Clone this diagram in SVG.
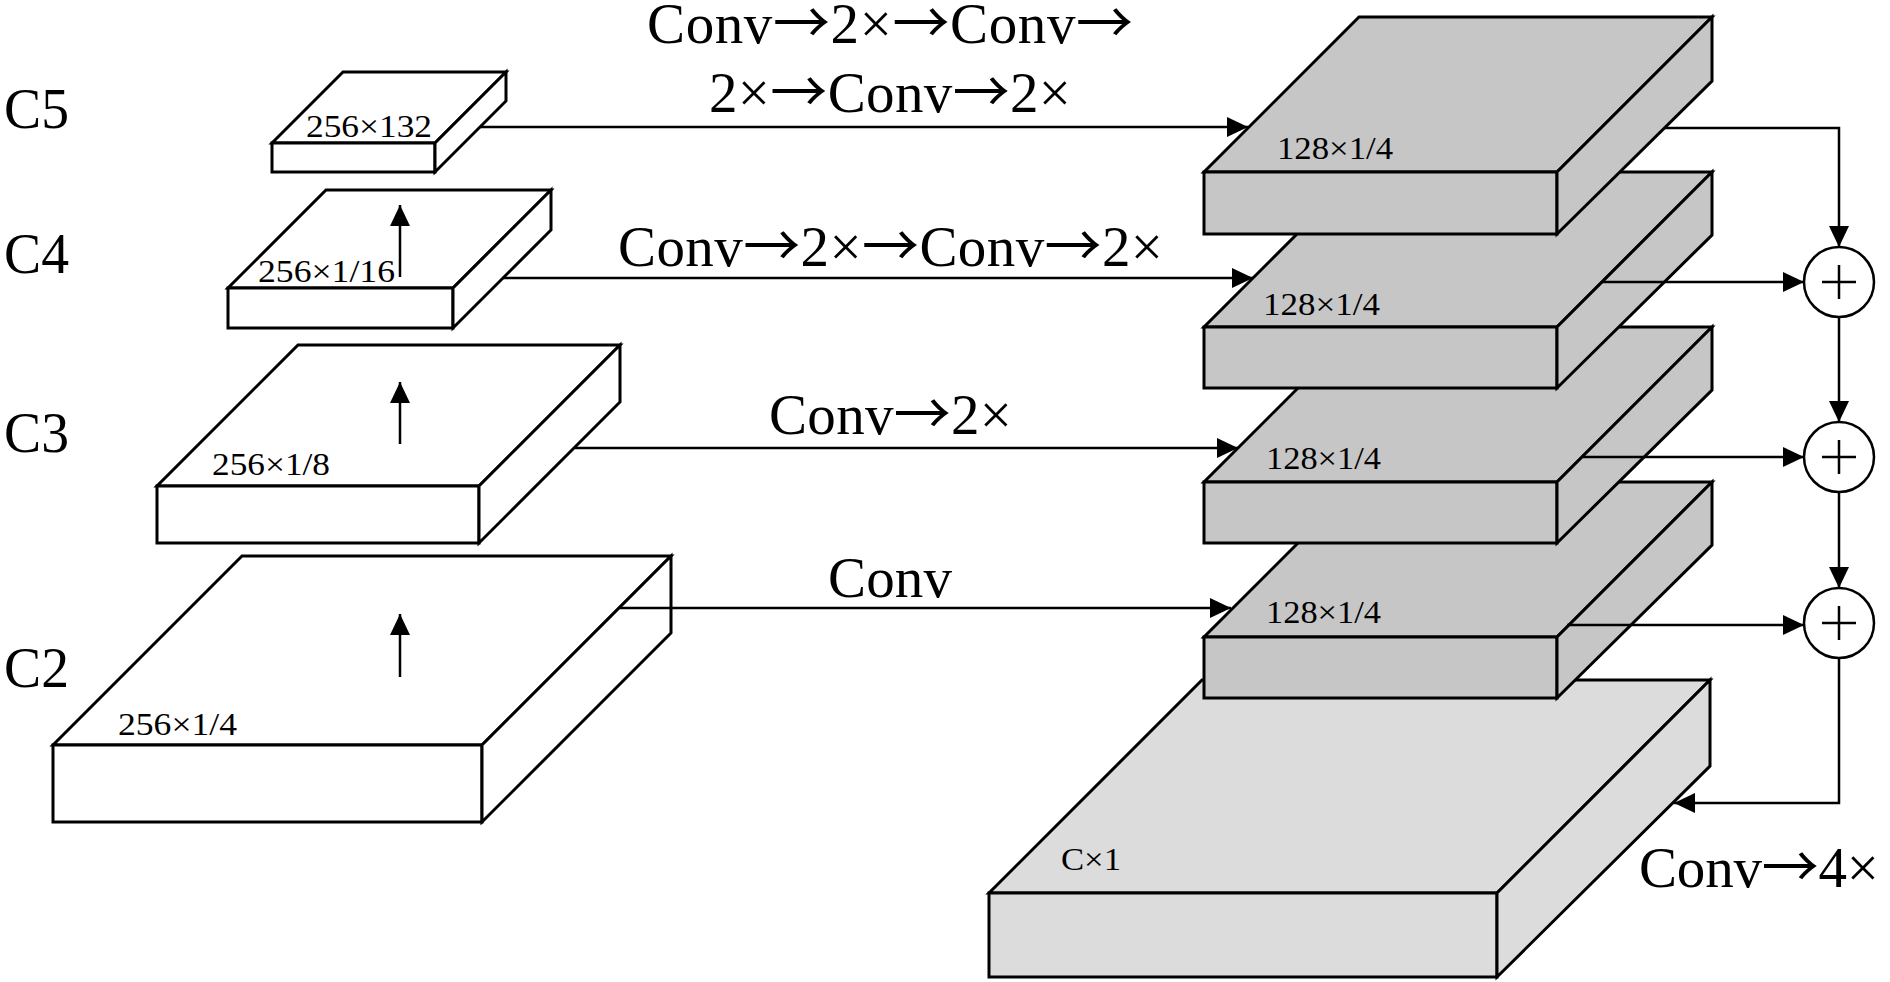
<svg xmlns="http://www.w3.org/2000/svg" width="1890" height="982" viewBox="0 0 1890 982">
<style>
.wb polygon,.wb rect{fill:#ffffff;stroke:#000;stroke-width:3;stroke-linejoin:miter}
.gb polygon,.gb rect{fill:#c6c6c6;stroke:#000;stroke-width:3}
.lb polygon,.lb rect{fill:#dcdcdc;stroke:#000;stroke-width:3}
.big{font-family:"Liberation Serif","Times New Roman",serif;font-size:57px;fill:#000}
.sm{font-family:"Liberation Serif","Times New Roman",serif;font-size:32px;fill:#000}
.arw{font-family:"Noto Sans CJK SC","Noto Sans CJK JP",sans-serif}
.ln{fill:none;stroke:#000;stroke-width:2.5}
.ar{marker-end:url(#ah)}
.sum circle{fill:#fff;stroke:#000;stroke-width:2.5}
.sum path{fill:none;stroke:#000;stroke-width:2.5}
</style>
<defs>
<marker id="ah" markerUnits="userSpaceOnUse" markerWidth="22" markerHeight="22" viewBox="0 0 22 22" refX="21" refY="11" orient="auto">
<path d="M0,1 L21,11 L0,21 Z" fill="#000"/>
</marker>
</defs>
<rect width="1890" height="982" fill="#fff"/>

<g id="levels">
<text class="big" x="4" y="128" textLength="65" lengthAdjust="spacingAndGlyphs">C5</text>
<text class="big" x="4" y="273" textLength="65" lengthAdjust="spacingAndGlyphs">C4</text>
<text class="big" x="4" y="452" textLength="65" lengthAdjust="spacingAndGlyphs">C3</text>
<text class="big" x="4" y="687" textLength="65" lengthAdjust="spacingAndGlyphs">C2</text>
</g>

<g id="c5" class="wb">
<polygon points="272,143 435,143 506,72 343,72"/>
<rect x="272" y="143" width="163" height="29"/>
<polygon points="435,143 506,72 506,101 435,172"/>
<text class="sm" x="306" y="137" textLength="126" lengthAdjust="spacingAndGlyphs">256×132</text>
</g>
<g id="c4" class="wb">
<polygon points="228,288 453,288 551,190 326,190"/>
<rect x="228" y="288" width="225" height="40"/>
<polygon points="453,288 551,190 551,230 453,328"/>
<text class="sm" x="258" y="282" textLength="137" lengthAdjust="spacingAndGlyphs">256×1/16</text>
</g>
<g id="c3" class="wb">
<polygon points="157,486 479,486 620,345 298,345"/>
<rect x="157" y="486" width="322" height="57"/>
<polygon points="479,486 620,345 620,402 479,543"/>
<text class="sm" x="212" y="475" textLength="118" lengthAdjust="spacingAndGlyphs">256×1/8</text>
</g>
<g id="c2" class="wb">
<polygon points="53,745 482,745 671,556 242,556"/>
<rect x="53" y="745" width="429" height="77"/>
<polygon points="482,745 671,556 671,633 482,822"/>
<text class="sm" x="118" y="735" textLength="119" lengthAdjust="spacingAndGlyphs">256×1/4</text>
</g>

<g id="out" class="lb">
<polygon points="989,893 1497,893 1710,680 1202,680"/>
<rect x="989" y="893" width="508" height="84"/>
<polygon points="1497,893 1710,680 1710,766 1497,977"/>
<text class="sm" x="1061" y="870" textLength="60" lengthAdjust="spacingAndGlyphs">C×1</text>
</g>
<g id="p2" class="gb">
<polygon points="1204,637 1557,637 1712,482 1359,482"/>
<rect x="1204" y="637" width="353" height="61"/>
<polygon points="1557,637 1712,482 1712,545 1557,698"/>
<text class="sm" x="1266" y="623" textLength="115" lengthAdjust="spacingAndGlyphs">128×1/4</text>
</g>
<g id="p3" class="gb">
<polygon points="1204,482 1557,482 1712,327 1359,327"/>
<rect x="1204" y="482" width="353" height="61"/>
<polygon points="1557,482 1712,327 1712,390 1557,543"/>
<text class="sm" x="1266" y="469" textLength="115" lengthAdjust="spacingAndGlyphs">128×1/4</text>
</g>
<g id="p4" class="gb">
<polygon points="1204,327 1557,327 1712,172 1359,172"/>
<rect x="1204" y="327" width="353" height="61"/>
<polygon points="1557,327 1712,172 1712,235 1557,388"/>
<text class="sm" x="1263" y="315" textLength="117" lengthAdjust="spacingAndGlyphs">128×1/4</text>
</g>
<g id="p5" class="gb">
<polygon points="1204,172 1557,172 1712,17 1359,17"/>
<rect x="1204" y="172" width="353" height="62"/>
<polygon points="1557,172 1712,17 1712,81 1557,234"/>
<text class="sm" x="1277" y="159" textLength="116" lengthAdjust="spacingAndGlyphs">128×1/4</text>
</g>

<g id="sum1" class="sum"><circle cx="1839" cy="282" r="35"/><path d="M1822,282 H1856 M1839,265 V299"/></g>
<g id="sum2" class="sum"><circle cx="1839" cy="457" r="35"/><path d="M1822,457 H1856 M1839,440 V474"/></g>
<g id="sum3" class="sum"><circle cx="1839" cy="623" r="35"/><path d="M1822,623 H1856 M1839,606 V640"/></g>

<g id="connectors">
<line class="ln ar" x1="400" y1="277" x2="400" y2="205"/>
<line class="ln ar" x1="400" y1="444" x2="400" y2="382"/>
<line class="ln ar" x1="400" y1="677" x2="400" y2="614"/>
<line class="ln ar" x1="480" y1="127" x2="1248" y2="127"/>
<line class="ln ar" x1="503" y1="278" x2="1253" y2="278"/>
<line class="ln ar" x1="575" y1="448" x2="1238" y2="448"/>
<line class="ln ar" x1="620" y1="608" x2="1231" y2="608"/>
<polyline class="ln ar" points="1665,128 1839,128 1839,247"/>
<line class="ln ar" x1="1601" y1="282" x2="1804" y2="282"/>
<line class="ln ar" x1="1583" y1="457" x2="1804" y2="457"/>
<line class="ln ar" x1="1567" y1="625" x2="1804" y2="625"/>
<line class="ln ar" x1="1839" y1="317" x2="1839" y2="422"/>
<line class="ln ar" x1="1839" y1="492" x2="1839" y2="588"/>
<polyline class="ln ar" points="1839,658 1839,803 1674,803"/>
</g>

<g id="ops">
<text class="big" x="647" y="43" textLength="486" lengthAdjust="spacing">Conv<tspan class="arw">→</tspan>2×<tspan class="arw">→</tspan>Conv<tspan class="arw">→</tspan></text>
<text class="big" x="709" y="112" textLength="362" lengthAdjust="spacing">2×<tspan class="arw">→</tspan>Conv<tspan class="arw">→</tspan>2×</text>
<text class="big" x="618" y="266" textLength="545" lengthAdjust="spacing">Conv<tspan class="arw">→</tspan>2×<tspan class="arw">→</tspan>Conv<tspan class="arw">→</tspan>2×</text>
<text class="big" x="769" y="434" textLength="243" lengthAdjust="spacing">Conv<tspan class="arw">→</tspan>2×</text>
<text class="big" x="828" y="597" textLength="124" lengthAdjust="spacing">Conv</text>
<text class="big" x="1639" y="887" textLength="240" lengthAdjust="spacing">Conv<tspan class="arw">→</tspan>4×</text>
</g>
</svg>
